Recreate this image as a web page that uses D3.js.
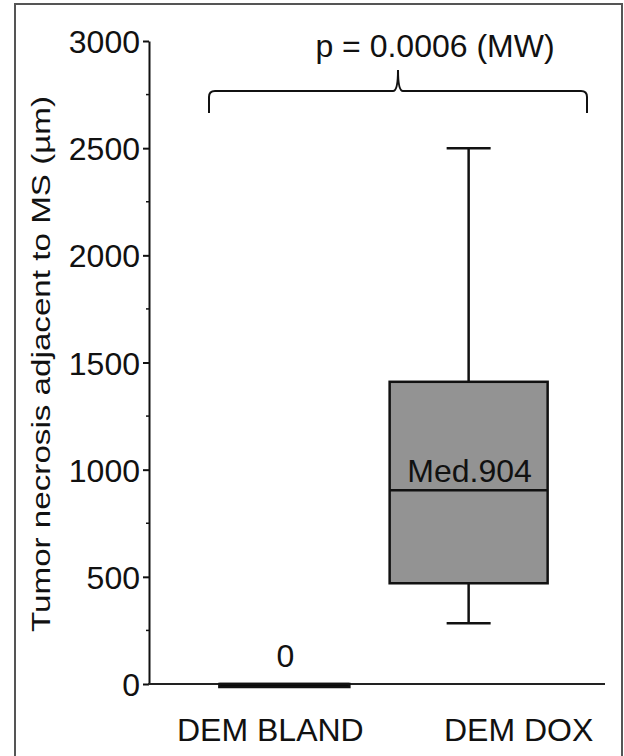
<!DOCTYPE html>
<html>
<head>
<meta charset="utf-8">
<script src="https://cdn.jsdelivr.net/npm/d3@7"></script>
<style>
  body { margin: 0; background: #fff; }
  text { font-family: "Liberation Sans", Arial, sans-serif; fill: #111; }
</style>
</head>
<body>
<div id="chart"></div>
<script>
// groups and box stats (µm)
const groups = ["DEM BLAND", "DEM DOX"];
const whiskerLow = [0, 283];
const q1 = [0, 470];
const median = [0, 904];
const q3 = [0, 1410];
const whiskerHigh = [0, 2500];
const boxLabels = ["0", "Med.904"];
const yTicks = [0, 500, 1000, 1500, 2000, 2500, 3000];
const yMinor = [250, 750, 1250, 1750, 2250, 2750];

const width = 624;
const height = 756;
const fontSize = 32;

const svg = d3.select("#chart")
    .append("svg")
    .attr("width", width)
    .attr("height", height);

// outer frame
svg.append("rect")
    .attr("x", 15)
    .attr("y", 4)
    .attr("width", 607)
    .attr("height", 770)
    .attr("fill", "none")
    .attr("stroke", "#555")
    .attr("stroke-width", 2);

const y = d3.scaleLinear()
    .domain([0, 3000])
    .range([684, 41]);

const x = d3.scalePoint()
    .domain(groups)
    .range([148, 605])
    .padding(0.74);

// y axis
const yAxis = svg.append("g")
    .attr("transform", "translate(149,0)")
    .call(d3.axisLeft(y).tickValues(yTicks).tickFormat(d3.format("d"))
        .tickSize(6).tickPadding(3).tickSizeOuter(0));
yAxis.select(".domain").attr("stroke", "#111").attr("stroke-width", 2);
yAxis.selectAll(".tick line").attr("stroke", "#111").attr("stroke-width", 2);
yAxis.selectAll(".tick text")
    .style("font-family", "Liberation Sans, Arial, sans-serif")
    .style("font-size", fontSize + "px")
    .attr("fill", "#111")
    .attr("dy", "0.36em");

svg.append("g")
    .selectAll("line")
    .data(yMinor)
    .enter().append("line")
    .attr("x1", 146)
    .attr("x2", 149)
    .attr("y1", d => y(d))
    .attr("y2", d => y(d))
    .attr("stroke", "#111")
    .attr("stroke-width", 1.5);

// x axis line
svg.append("line")
    .attr("x1", 148)
    .attr("x2", 605)
    .attr("y1", y(0))
    .attr("y2", y(0))
    .attr("stroke", "#222")
    .attr("stroke-width", 2);

// boxes
const boxWidth = [130, 158];
const capWidth = 44;
const idx = d3.range(groups.length);

const boxes = svg.append("g");

// whiskers
boxes.selectAll(".whisker")
    .data(idx)
    .enter().append("line")
    .attr("x1", i => x(groups[i]))
    .attr("x2", i => x(groups[i]))
    .attr("y1", i => y(whiskerHigh[i]))
    .attr("y2", i => y(whiskerLow[i]))
    .attr("stroke", "#111")
    .attr("stroke-width", 2.5);

boxes.selectAll(".cap-high")
    .data(idx.filter(i => whiskerHigh[i] > 0))
    .enter().append("line")
    .attr("x1", i => x(groups[i]) - capWidth / 2)
    .attr("x2", i => x(groups[i]) + capWidth / 2)
    .attr("y1", i => y(whiskerHigh[i]))
    .attr("y2", i => y(whiskerHigh[i]))
    .attr("stroke", "#111")
    .attr("stroke-width", 2.5);

boxes.selectAll(".cap-low")
    .data(idx.filter(i => whiskerHigh[i] > 0))
    .enter().append("line")
    .attr("x1", i => x(groups[i]) - capWidth / 2)
    .attr("x2", i => x(groups[i]) + capWidth / 2)
    .attr("y1", i => y(whiskerLow[i]))
    .attr("y2", i => y(whiskerLow[i]))
    .attr("stroke", "#111")
    .attr("stroke-width", 2.5);

// box body (a flat box at zero is drawn as a thick bar just under the axis)
boxes.selectAll(".box")
    .data(idx)
    .enter().append("rect")
    .attr("x", i => x(groups[i]) - boxWidth[i] / 2)
    .attr("y", i => y(q3[i]))
    .attr("width", i => boxWidth[i])
    .attr("height", i => Math.max(y(q1[i]) - y(q3[i]), 3))
    .attr("fill", i => q3[i] > q1[i] ? "#939393" : "#000")
    .attr("stroke", "#111")
    .attr("stroke-width", 2.5);

boxes.selectAll(".median")
    .data(idx)
    .enter().append("line")
    .attr("x1", i => x(groups[i]) - boxWidth[i] / 2)
    .attr("x2", i => x(groups[i]) + boxWidth[i] / 2)
    .attr("y1", i => y(median[i]))
    .attr("y2", i => y(median[i]))
    .attr("stroke", "#111")
    .attr("stroke-width", 2.5);

// labels over the medians
svg.append("g")
    .selectAll("text")
    .data(idx)
    .enter().append("text")
    .attr("x", i => x(groups[i]) + 1)
    .attr("y", i => y(median[i]) - (median[i] > 0 ? 8 : 17))
    .attr("text-anchor", "middle")
    .style("font-size", fontSize + "px")
    .text(i => boxLabels[i]);

// category labels
const labelShift = [-14, 50];
svg.append("g")
    .selectAll("text")
    .data(idx)
    .enter().append("text")
    .attr("x", i => x(groups[i]) + labelShift[i])
    .attr("y", 741)
    .attr("text-anchor", "middle")
    .style("font-size", fontSize + "px")
    .text(i => groups[i]);

// y axis title (glyphs a little squeezed across, as in the source)
svg.append("text")
    .attr("transform", "translate(50,364) rotate(-90) scale(1,0.77)")
    .attr("text-anchor", "middle")
    .style("font-size", "33.2px")
    .text("Tumor necrosis adjacent to  MS (µm)");

// significance brace
const bl = 209, br = 587, bm = 398, by = 91;
const brace = d3.path();
brace.moveTo(bl, 113);
brace.lineTo(bl, by + 6);
brace.quadraticCurveTo(bl, by, bl + 6, by);
brace.lineTo(bm - 5, by);
brace.quadraticCurveTo(bm, by, bm, 70);
brace.quadraticCurveTo(bm, by, bm + 5, by);
brace.lineTo(br - 6, by);
brace.quadraticCurveTo(br, by, br, by + 6);
brace.lineTo(br, 113);
svg.append("path")
    .attr("d", brace.toString())
    .attr("fill", "none")
    .attr("stroke", "#111")
    .attr("stroke-width", 2);

svg.append("text")
    .attr("x", 435)
    .attr("y", 57)
    .attr("text-anchor", "middle")
    .style("font-size", fontSize + "px")
    .text("p = 0.0006 (MW)");
</script>
</body>
</html>
